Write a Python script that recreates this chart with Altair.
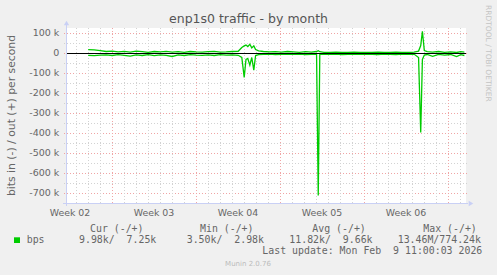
import altair as alt
import pandas as pd

# ---- data (days since graph start, values in k bit/s) ----
days = [1.85, 2.35, 2.85, 3.35, 3.85, 4.35, 4.85, 5.35, 5.85, 6.35, 6.85, 7.35, 7.85, 8.35, 8.85,
        9.35, 9.85, 10.35, 10.85, 11.35, 11.85, 12.35, 12.85, 13.35, 13.85, 14.35, 14.65, 14.85,
        15.0, 15.15, 15.32, 15.48, 15.65, 15.8, 16.05, 16.45, 16.95, 17.45, 17.95, 18.45,
        18.95, 19.45, 19.95, 20.45, 20.88, 21.02, 21.15, 21.5, 22.0, 22.5, 23.0,
        23.5, 24.0, 24.5, 25.0, 25.5, 26.0, 26.5, 27.0, 27.5, 28.0, 28.5,
        29.0, 29.38, 29.56, 29.7, 29.86, 30.1, 30.55, 31.05, 31.55, 32.05, 32.55, 32.9, 33.2]
out_k = [19, 18, 14, 10, 12, 8, 11, 7, 12, 9, 6, 10, 8, 11, 7, 9, 6, 10, 8, 7, 9, 11, 7, 8, 10,
         11, 30, 38, 42, 35, 46, 28, 38, 20, 13, 10, 8, 9, 7, 10, 8, 6, 9, 7, 10, 14, 9,
         6, 5, 7, 6, 5, 7, 6, 5, 6, 7, 5, 6, 7, 6, 5, 7, 12, 40, 111, 15, 9, 7, 10, 6, 8,
         5, 9, 7.25]
in_k = [9, 11, 8, 7, 10, 6, 9, 13, 7, 10, 6, 11, 7, 9, 15, 7, 10, 6, 8, 9, 7, 10, 6, 8, 7,
        9, 20, 120, 30, 25, 58, 20, 83, 10, 6, 4, 3, 5, 4, 3, 4, 3, 5, 4, 3, 710, 4,
        3, 4, 3, 5, 4, 3, 4, 3, 4, 5, 3, 4, 5, 3, 4, 3, 20, 395, 30, 8, 5, 14, 4, 8, 5,
        15, 6, 9.98]

week_label_pos = [0.3333, 7.3333, 14.3333, 21.3333, 28.3333]
week_labels = ["Week 02", "Week 03", "Week 04", "Week 05", "Week 06"]
week_lines = [3.8333, 10.8333, 17.8333, 24.8333, 31.8333]
day_lines = [0.8333 + i for i in range(33)]
y_ticks = [100, 0, -100, -200, -300, -400, -500, -600, -700]
y_labels = ["100 k", "0", "-100 k", "-200 k", "-300 k", "-400 k", "-500 k", "-600 k", "-700 k"]
y_minor = [50, -50, -150, -250, -350, -450, -550, -650]

NB = "\u00a0"
legend_head = ["Cur (-/+)", "Min (-/+)", "Avg (-/+)", "Max (-/+)"]
legend_vals = ["9.98k/" + NB * 2 + "7.25k", "3.50k/" + NB * 2 + "2.98k",
               "11.82k/" + NB * 2 + "9.66k", "13.46M/774.24k"]
last_update = "Last" + NB + "update:" + NB + "Mon" + NB + "Feb" + NB * 2 + "9" + NB + "11:00:03" + NB + "2026"

X_DOM = [0, 33.3333]
Y_DOM = [-750, 125]
xs = alt.Scale(domain=X_DOM, nice=False, zero=False)
ys = alt.Scale(domain=Y_DOM, nice=False, zero=False)

GREEN = "#00CC00"
FONT = "#666666"
AXIS = "#C9D0F5"
MINOR = "#D2D2D2"
MAJOR = "#F0A4A4"
SANS = "DejaVu Sans"
MONO = "DejaVu Sans Mono"

one = pd.DataFrame({"a": [0]})

series = pd.DataFrame({
    "d": days * 2,
    "v": out_k + [-v for v in in_k],
    "s": ["out"] * len(days) + ["in"] * len(days),
})

hminor = alt.Chart(pd.DataFrame({"y": y_minor})).mark_rule(
    color=MINOR, strokeDash=[1, 2], strokeWidth=1, yOffset=0.5
).encode(y=alt.Y("y:Q", scale=ys, axis=None), x=alt.value(-2), x2=alt.value(402))

hmajor = alt.Chart(pd.DataFrame({"y": y_ticks})).mark_rule(
    color=MAJOR, strokeDash=[1, 2], strokeWidth=1, yOffset=0.5
).encode(y=alt.Y("y:Q", scale=ys, axis=None), x=alt.value(-2), x2=alt.value(402))

vminor = alt.Chart(pd.DataFrame({"x": day_lines})).mark_rule(
    color=MINOR, strokeDash=[1, 2], strokeWidth=1, xOffset=0.5
).encode(x=alt.X("x:Q", scale=xs, axis=None), y=alt.value(0), y2=alt.value(177))

vmajor = alt.Chart(pd.DataFrame({"x": week_lines})).mark_rule(
    color=MAJOR, strokeDash=[1, 2], strokeWidth=1, xOffset=0.5
).encode(x=alt.X("x:Q", scale=xs, axis=None), y=alt.value(0), y2=alt.value(177))

lines = alt.Chart(series).mark_line(color=GREEN, strokeWidth=1.3, interpolate="linear", yOffset=0.5).encode(
    x=alt.X("d:Q", scale=xs, axis=None),
    y=alt.Y("v:Q", scale=ys, axis=None),
    detail="s:N",
)

zero = alt.Chart(pd.DataFrame({"y": [0]})).mark_rule(color="black", strokeWidth=1, yOffset=0.5).encode(
    y=alt.Y("y:Q", scale=ys, axis=None), x=alt.value(0), x2=alt.value(400)
)

yaxis_line = alt.Chart(one).mark_rule(color=AXIS, strokeWidth=1, xOffset=0.5).encode(
    x=alt.value(0), y=alt.value(178), y2=alt.value(-4)
)
xaxis_line = alt.Chart(one).mark_rule(color=AXIS, strokeWidth=1, yOffset=0.5).encode(
    y=alt.value(175), x=alt.value(-3), x2=alt.value(402)
)
yarrow = alt.Chart(one).mark_point(shape="triangle-up", filled=True, color=AXIS, size=28, opacity=1).encode(
    x=alt.value(0.5), y=alt.value(-5)
)
xarrow = alt.Chart(one).mark_point(shape="triangle-right", filled=True, color=AXIS, size=28, opacity=1).encode(
    x=alt.value(405), y=alt.value(175.5)
)

ylab = alt.Chart(pd.DataFrame({"y": y_ticks, "t": y_labels})).mark_text(
    align="right", baseline="middle", font=SANS, fontSize=9.5, color=FONT
).encode(y=alt.Y("y:Q", scale=ys, axis=None), x=alt.value(-6.7), text="t:N")

xlab = alt.Chart(pd.DataFrame({"x": week_label_pos, "t": week_labels})).mark_text(
    align="center", baseline="middle", font=SANS, fontSize=9.4, color=FONT
).encode(x=alt.X("x:Q", scale=xs, axis=None), y=alt.value(184.5), text="t:N")

title = alt.Chart(pd.DataFrame({"t": ["enp1s0 traffic - by month"]})).mark_text(
    align="center", baseline="alphabetic", font=SANS, fontSize=12.5, color="#555555"
).encode(x=alt.value(182.5), y=alt.value(-5.5), text="t:N")

ytitle = alt.Chart(pd.DataFrame({"t": ["bits in (-) / out (+) per second"]})).mark_text(
    align="center", baseline="middle", font=SANS, fontSize=10.8, color=FONT, angle=270
).encode(x=alt.value(-54), y=alt.value(87.5), text="t:N")

watermark = alt.Chart(pd.DataFrame({"t": ["RRDTOOL / TOBI OETIKER"]})).mark_text(
    align="center", baseline="middle", font=SANS, fontSize=7.5, color="#C4C4C4", angle=90
).encode(x=alt.value(421.7), y=alt.value(25.3), text="t:N")

head_x = [24, 134, 246.3, 357.3]
head = alt.Chart(pd.DataFrame({"t": legend_head, "px": head_x})).mark_text(
    align="left", baseline="middle", font=MONO, fontSize=9.9, color=FONT
).encode(x=alt.X("px:Q", scale=None), y=alt.value(200.5), text="t:N")

val_x = [13, 120.7, 223.3, 331.7]
vals = alt.Chart(pd.DataFrame({"t": legend_vals, "px": val_x})).mark_text(
    align="left", baseline="middle", font=MONO, fontSize=9.9, color=FONT
).encode(x=alt.X("px:Q", scale=None), y=alt.value(212), text="t:N")

bps = alt.Chart(pd.DataFrame({"t": ["bps"]})).mark_text(
    align="left", baseline="middle", font=MONO, fontSize=9.9, color=FONT
).encode(x=alt.value(-39.3), y=alt.value(212), text="t:N")

swatch = alt.Chart(one).mark_rect(color=GREEN).encode(
    x=alt.value(-52), x2=alt.value(-46), y=alt.value(209.3), y2=alt.value(215)
)

lastupd = alt.Chart(pd.DataFrame({"t": [last_update]})).mark_text(
    align="right", baseline="middle", font=MONO, fontSize=9.9, color=FONT
).encode(x=alt.value(416.3), y=alt.value(223), text="t:N")

munin = alt.Chart(pd.DataFrame({"t": ["Munin 2.0.76"]})).mark_text(
    align="center", baseline="middle", font=SANS, fontSize=7, color="#BBBBBB"
).encode(x=alt.value(182), y=alt.value(236.3), text="t:N")

chart = alt.layer(
    hminor, hmajor, vminor, vmajor, lines, zero,
    yaxis_line, xaxis_line, yarrow, xarrow,
    ylab, xlab, title, ytitle, watermark,
    head, vals, bps, swatch, lastupd, munin,
).properties(
    width=400, height=175,
    autosize="none",
    padding={"left": 66, "top": 28, "right": 31, "bottom": 72},
    background="#F0F0F0",
).configure_view(fill="white", stroke=None)

chart.save("out.html", embed_options={"renderer": "svg", "actions": False})
